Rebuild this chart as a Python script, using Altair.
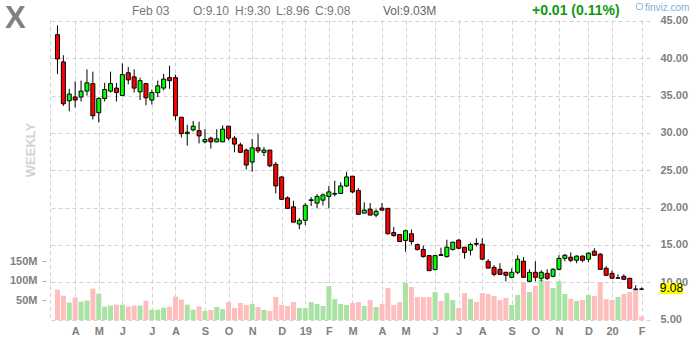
import json
import altair as alt
import pandas as pd

# ---- weekly OHLC (week index 0 = week of 2018-03-12, 99 = week of 2020-02-03)
opens = [43.15, 39.5, 34.3, 34.8, 34.8, 35.6, 36.6, 32.7, 34.6, 35.6,
         36.0, 35.0, 38.05, 37.5, 35.5, 36.6, 34.4, 35.4, 36.0, 37.4,
         37.4, 32.1, 29.9, 30.4, 30.3, 28.8, 29.3, 28.8, 28.8, 30.9,
         29.3, 28.4, 27.7, 26.1, 28.0, 27.4, 27.7, 25.8, 24.1, 21.3,
         20.1, 17.8, 18.3, 20.95, 20.6, 21.0, 21.5, 21.8, 21.9, 22.9,
         24.2, 22.3, 19.26, 19.8, 19.0, 19.93, 19.9, 16.66, 16.4, 15.6,
         16.5, 15.05, 14.4, 13.57, 11.7, 13.7, 13.44, 14.4, 15.64, 14.7,
         14.3, 15.2, 15.1, 12.8, 12.0, 11.74, 11.34, 10.67, 11.34, 12.82,
         10.13, 11.34, 10.54, 11.2, 10.8, 11.74, 13.2, 13.36, 12.95, 13.5,
         13.09, 14.16, 13.76, 11.88, 11.2, 10.54, 10.8, 10.54, 9.1, 9.10]
highs = [44.4, 40.4, 35.9, 36.9, 37.0, 38.5, 38.2, 34.8, 36.7, 38.2,
         36.7, 39.3, 38.8, 38.5, 37.4, 36.7, 35.8, 37.0, 37.9, 39.0,
         37.8, 32.1, 31.1, 31.6, 31.5, 30.5, 29.5, 30.5, 31.0, 30.9,
         29.6, 28.7, 27.9, 29.2, 29.9, 28.1, 27.7, 26.1, 24.2, 21.5,
         20.9, 18.6, 20.6, 21.4, 21.8, 21.9, 22.9, 23.6, 23.4, 24.8,
         24.2, 22.6, 20.7, 20.6, 19.8, 20.6, 19.9, 17.4, 16.4, 17.06,
         17.06, 15.2, 14.9, 13.6, 13.6, 14.64, 15.7, 15.4, 15.77, 14.7,
         15.3, 15.9, 15.9, 13.1, 12.3, 12.55, 11.4, 11.88, 13.62, 13.36,
         11.74, 12.82, 11.6, 11.74, 11.88, 13.62, 13.8, 14.0, 13.62, 13.62,
         14.0, 14.56, 13.9, 12.15, 11.6, 11.07, 11.07, 10.54, 9.6, 9.30]
lows = [37.9, 33.6, 32.9, 33.4, 34.2, 35.0, 31.8, 31.4, 34.2, 35.4,
        34.2, 35.0, 36.5, 35.4, 34.4, 33.7, 33.8, 34.8, 35.7, 35.9,
        31.7, 29.4, 28.3, 30.2, 28.6, 28.6, 27.9, 28.8, 28.8, 29.0,
        27.4, 27.3, 25.1, 24.8, 27.3, 26.9, 25.4, 21.9, 21.1, 19.8,
        18.05, 17.1, 17.65, 20.2, 19.9, 20.3, 19.9, 21.5, 21.85, 22.75,
        21.9, 19.1, 19.26, 19.0, 18.7, 19.66, 16.4, 16.1, 15.4, 14.1,
        15.05, 14.24, 13.3, 11.5, 11.6, 13.57, 13.3, 14.24, 14.4, 13.17,
        13.6, 14.8, 13.0, 11.9, 10.8, 11.0, 10.13, 10.54, 11.07, 10.6,
        10.1, 10.13, 10.13, 10.3, 10.67, 11.6, 12.82, 12.68, 12.55, 12.68,
        12.68, 13.5, 11.7, 10.9, 10.5, 10.54, 10.4, 9.2, 8.93, 8.96]
closes = [39.9, 33.9, 35.2, 34.4, 35.6, 36.7, 32.3, 34.6, 35.8, 36.6,
          35.4, 37.8, 37.1, 36.0, 37.0, 34.7, 35.4, 36.3, 37.2, 37.0,
          32.3, 29.9, 30.1, 30.9, 29.6, 29.1, 28.8, 29.2, 30.5, 29.3,
          28.5, 27.4, 25.7, 28.0, 27.6, 27.7, 25.6, 22.9, 21.1, 19.9,
          18.05, 18.3, 20.3, 21.05, 21.5, 21.7, 22.1, 21.9, 22.9, 24.1,
          22.1, 19.1, 19.66, 19.0, 19.5, 19.66, 16.5, 16.26, 15.45, 16.9,
          15.45, 14.4, 13.44, 11.56, 13.57, 13.6, 14.7, 15.37, 14.56, 14.0,
          15.05, 15.1, 13.1, 11.9, 11.07, 11.07, 10.94, 11.34, 13.09, 10.67,
          11.34, 10.67, 11.34, 10.54, 11.74, 13.2, 13.62, 12.95, 13.5, 12.95,
          13.9, 13.62, 11.74, 10.94, 10.54, 10.6, 10.4, 9.2, 9.06, 9.08]
volumes = [77.8, 62.4, 44.5, 57.3, 47.0, 49.6, 80.4, 67.5, 34.2, 36.8,
           39.3, 39.3, 34.2, 36.8, 36.8, 49.6, 26.5, 26.5, 31.6, 34.2,
           59.9, 52.2, 39.3, 26.5, 35.0, 23.0, 25.6, 33.3, 28.2, 46.0,
           30.7, 43.5, 38.4, 41.0, 33.3, 25.6, 23.0, 58.9, 38.4, 35.8,
           46.0, 30.7, 30.7, 46.0, 41.0, 35.8, 87.0, 53.7, 41.0, 38.4,
           43.5, 46.0, 35.8, 51.2, 33.3, 41.0, 81.9, 38.4, 46.0, 94.7,
           84.4, 58.9, 58.9, 58.9, 71.7, 48.6, 69.0, 51.2, 30.7, 69.0,
           53.7, 46.0, 69.0, 66.5, 61.4, 51.2, 56.3, 38.4, 64.0, 96.4,
           71.7, 87.0, 102.4, 99.8, 81.9, 99.8, 66.5, 53.7, 48.6, 51.2,
           64.0, 61.4, 97.2, 53.7, 51.2, 58.9, 66.5, 71.7, 76.8, 9.03]

month_ticks = [3, 7, 11, 16, 20, 25, 29, 33, 38, 42, 46, 50, 55, 59, 64,
               68, 72, 77, 81, 85, 90, 94, 99]
month_labels = ["A", "M", "J", "J", "A", "S", "O", "N", "D", "19", "F", "M",
                "A", "M", "J", "J", "A", "S", "O", "N", "D", "20", "F"]
price_ticks = [5, 10, 15, 20, 25, 30, 35, 40, 45]
volume_ticks = [50, 100, 150]

ticker = "X"
last_date = "Feb 03"
last_change = "+0.01 (0.11%)"

df = pd.DataFrame({"i": list(range(len(opens))), "open": opens, "high": highs,
                   "low": lows, "close": closes, "volume": volumes})
last = df.tail(1)

FONT = "Liberation Sans"
GRID = "#d2d2d2"
DASH = [4, 3]
up_cond = "datum.close >= datum.open"

x_scale = alt.Scale(domain=[-0.4167, 99.5833], nice=False, zero=False)
p_scale = alt.Scale(domain=[4.953, 45.114], nice=False, zero=False)
v_scale = alt.Scale(domain=[0, 768], nice=False, zero=True)

label_expr = f"{json.dumps(month_labels)}[indexof({json.dumps(month_ticks)}, datum.value)]"

x_axis = alt.Axis(values=month_ticks, labelExpr=label_expr, grid=True,
                  gridColor=GRID, gridDash=DASH, ticks=False, domain=False,
                  labelFont=FONT, labelFontSize=11, labelFontWeight="bold",
                  labelColor="#808080", labelPadding=5, labelFlush=False,
                  labelOverlap=False, title=None)

p_axis = alt.Axis(orient="right", values=price_ticks, format=".2f", grid=True,
                  gridColor=GRID, gridDash=DASH, ticks=False, domain=False,
                  labelPadding=10, labelFont=FONT, labelFontSize=11,
                  labelFontWeight="bold", labelColor="#808080", labelOverlap=False,
                  title=None)

v_axis = alt.Axis(orient="left", values=volume_ticks, labelExpr="datum.value + 'M'",
                  grid=False, domain=False, tickSize=4, tickColor="#aaaaaa",
                  offset=4, labelPadding=5, labelFont=FONT, labelFontSize=11,
                  labelFontWeight="bold", labelColor="#808080", labelOverlap=False,
                  title=None)

vol = alt.Chart(df).mark_bar(size=5).encode(
    x=alt.X("i:Q", scale=x_scale, axis=x_axis),
    y=alt.Y("volume:Q", scale=v_scale, axis=v_axis),
    color=alt.condition(up_cond, alt.value("#aae2a4"), alt.value("#ffbebe")),
)

wick = alt.Chart(df).mark_rule(color="black", strokeWidth=1).encode(
    x=alt.X("i:Q", scale=x_scale, axis=x_axis),
    y=alt.Y("low:Q", scale=p_scale, axis=p_axis),
    y2="high:Q",
)

body = alt.Chart(df).mark_bar(size=4, stroke="black", strokeWidth=1).encode(
    x=alt.X("i:Q", scale=x_scale, axis=x_axis),
    y=alt.Y("open:Q", scale=p_scale, axis=p_axis),
    y2="close:Q",
    color=alt.condition(up_cond, alt.value("#00ff00"), alt.value("#ff0000")),
)

last_box = alt.Chart(last).mark_rect(color="#ffff00", yOffset=-6.3, y2Offset=5).encode(
    x=alt.value(610), x2=alt.value(633),
    y=alt.Y("close:Q", scale=p_scale, axis=p_axis), y2="close:Q",
)
last_text = alt.Chart(last).mark_text(font=FONT, fontSize=12, color="black",
                                      align="center", baseline="middle", dy=-1).encode(
    x=alt.value(621.5),
    y=alt.Y("close:Q", scale=p_scale, axis=p_axis),
    text=alt.Text("close:Q", format=".2f"),
)

price_layer = alt.layer(wick, body, last_box, last_text)

one = pd.DataFrame({"k": [0]})

def label(txt, x, y, size=12, color="#777777", weight="normal", align="left", angle=0):
    return alt.Chart(one).mark_text(text=txt, font=FONT, fontSize=size, color=color,
                                    fontWeight=weight, align=align, baseline="alphabetic",
                                    angle=angle).encode(x=alt.value(x), y=alt.value(y))

o, h, l, c = opens[-1], highs[-1], lows[-1], closes[-1]
texts = [
    label(ticker, -45, 8, size=31, color="#808080", weight="bold"),
    label(last_date, 82, -5.5, size=12),
    label(f"O:{o:.2f}", 143, -5.5, size=12),
    label(f"H:{h:.2f}", 185, -5.5, size=12),
    label(f"L:{l:.2f}", 226, -5.5, size=12),
    label(f"C:{c:.2f}", 265, -5.5, size=12),
    label(f"Vol:{volumes[-1]:.2f}M", 333, -5.5, size=12, color="#666666"),
    label(last_change, 482, -5.5, size=14, color="#119911", weight="bold"),
    label("finviz.com", 595, -9.5, size=10, color="#7fb0dc"),
    label("WEEKLY", -15, 130, size=13, color="#d4d4d4", weight="bold", align="center", angle=270),
]

logo_icon = alt.Chart(one).mark_rect(fill="white", stroke="#7fb0dc", strokeWidth=1,
                                     cornerRadius=2).encode(
    x=alt.value(586.5), x2=alt.value(592.5), y=alt.value(-16.5), y2=alt.value(-10.5))

frame = alt.Chart(one).mark_rule(color=GRID, strokeDash=DASH).encode(
    x=alt.value(0.5), y=alt.value(0), y2=alt.value(300))

chart = alt.layer(vol, price_layer, frame, logo_icon, *texts).resolve_scale(y="independent").properties(
    width=600, height=300,
    padding={"left": 50, "right": 50, "top": 20, "bottom": 20},
    autosize=alt.AutoSizeParams(type="none"),
    background="white",
).configure_view(stroke=None)

chart.save("out.html", embed_options={"renderer": "svg", "actions": False})
